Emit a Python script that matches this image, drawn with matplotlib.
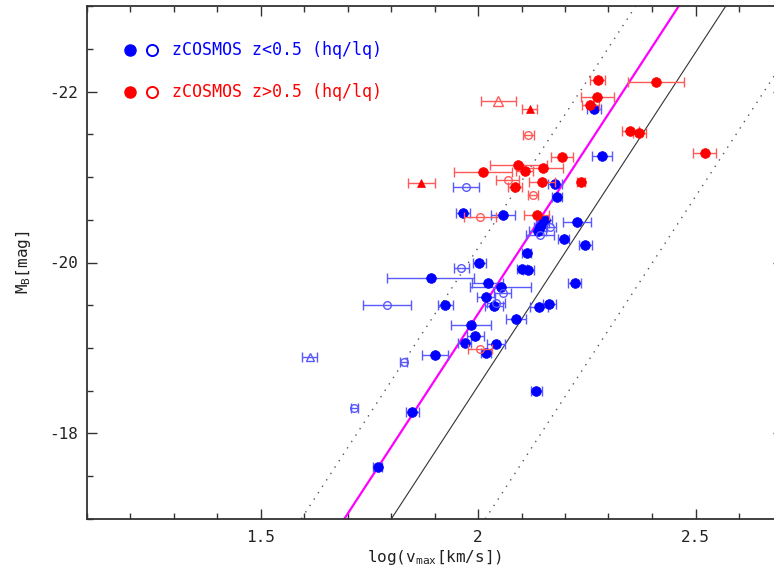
import matplotlib
matplotlib.use('Agg')
import matplotlib.pyplot as plt
import numpy as np
from matplotlib.ticker import MultipleLocator, FuncFormatter

plt.rcParams['axes.unicode_minus'] = False
plt.rcParams['font.family'] = ['DejaVu Sans Mono', 'DejaVu Sans']
plt.rcParams['mathtext.fontset'] = 'custom'
plt.rcParams['mathtext.rm'] = 'DejaVu Sans Mono'

# ---------------- data ----------------
# z<0.5, high quality (filled blue circles): log vmax, M_B, xerr
blue_hq_logv = [2.266, 2.285, 2.177, 2.181, 1.966, 2.057, 2.154, 2.149, 2.143, 2.137,
                2.227, 2.197, 2.247, 2.112, 2.003, 2.101, 2.116, 1.891, 2.022, 2.052,
                2.222, 2.018, 1.925, 2.037, 2.140, 2.164, 2.087, 1.984, 1.994, 1.970,
                2.041, 2.018, 1.902, 1.849, 2.134, 1.769]
blue_hq_mag = [-21.80, -21.25, -20.92, -20.77, -20.58, -20.56, -20.50, -20.46, -20.42, -20.37,
               -20.48, -20.28, -20.21, -20.11, -20.00, -19.92, -19.91, -19.82, -19.76, -19.71,
               -19.76, -19.60, -19.50, -19.49, -19.48, -19.51, -19.34, -19.27, -19.14, -19.06,
               -19.04, -18.94, -18.92, -18.25, -18.49, -17.61]
blue_hq_err = [0.016, 0.023, 0.015, 0.012, 0.016, 0.027, 0.015, 0.015, 0.015, 0.020,
               0.032, 0.012, 0.015, 0.010, 0.015, 0.012, 0.012, 0.100, 0.035, 0.070,
               0.015, 0.020, 0.017, 0.020, 0.020, 0.015, 0.023, 0.045, 0.020, 0.015,
               0.021, 0.012, 0.030, 0.015, 0.012, 0.010]

# z<0.5, low quality (open blue circles)
blue_lq_logv = [1.972, 2.165, 2.143, 1.962, 2.057, 2.041, 1.790, 1.829, 1.716]
blue_lq_mag = [-20.88, -20.42, -20.32, -19.93, -19.64, -19.52, -19.50, -18.84, -18.30]
blue_lq_err = [0.030, 0.015, 0.032, 0.017, 0.020, 0.020, 0.055, 0.008, 0.008]

# z<0.5 open triangle
blue_tri_logv = [1.613]
blue_tri_mag = [-18.89]
blue_tri_err = [0.017]

# z>0.5, high quality (filled red circles)
red_hq_logv = [2.275, 2.409, 2.274, 2.258, 2.350, 2.371, 2.521, 2.193, 2.093, 2.149,
               2.107, 2.012, 2.147, 2.237, 2.085, 2.135]
red_hq_mag = [-22.14, -22.11, -21.94, -21.85, -21.54, -21.52, -21.28, -21.24, -21.14, -21.11,
              -21.07, -21.06, -20.94, -20.94, -20.88, -20.56]
red_hq_err = [0.018, 0.064, 0.038, 0.020, 0.019, 0.015, 0.026, 0.025, 0.066, 0.046,
              0.020, 0.067, 0.030, 0.010, 0.016, 0.029]

# z>0.5, low quality (open red circles)
red_lq_logv = [2.116, 2.068, 2.127, 2.005, 2.005]
red_lq_mag = [-21.49, -20.97, -20.79, -20.53, -18.99]
red_lq_err = [0.012, 0.027, 0.012, 0.037, 0.027]

# z>0.5 triangles
red_ftri_logv = [2.119, 1.870]
red_ftri_mag = [-21.80, -20.93]
red_ftri_err = [0.017, 0.030]
red_otri_logv = [2.047]
red_otri_mag = [-21.89]
red_otri_err = [0.040]

# Tully-Fisher relations  M = a + b*log(v)
tf_slope = -7.81
fit_intercept = -3.778      # magenta
local_intercept = -2.934    # black solid
scatter_intercepts = [-4.551, -1.247]   # dotted

legend_labels = ['zCOSMOS z<0.5 (hq/lq)', 'zCOSMOS z>0.5 (hq/lq)']

# ---------------- figure ----------------
W, H = 774, 569
fig = plt.figure(figsize=(W / 100, H / 100), dpi=100)
ax = fig.add_axes([86.5 / W, (H - 518.7) / H, (782.5 - 86.5) / W, 512.4 / H])
ax.set_xlim(1.1, 2.7)
ax.set_ylim(-17, -23)

BLUE = (0, 0, 1)
RED = (1, 0, 0)
BLUE_L = (0.35, 0.35, 1.0)
RED_L = (1.0, 0.35, 0.35)

xl = np.array([1.1, 2.7])
for a in scatter_intercepts:
    ax.plot(xl, a + tf_slope * xl, color='#555555', lw=1.0, ls=(0, (1, 4.5)), zorder=1)
ax.plot(xl, local_intercept + tf_slope * xl, color='#333333', lw=0.8, zorder=1)
ax.plot(xl, fit_intercept + tf_slope * xl, color=(1, 0, 1), lw=1.6, zorder=2)


def pts(x, y, e, ecol, marker, ms, mfc, mec, mew=1.0, z=3):
    ax.errorbar(x, y, xerr=e, fmt='none', ecolor=ecol, elinewidth=1.0,
                capsize=3.5, capthick=1.0, zorder=z)
    ax.plot(x, y, ls='none', marker=marker, ms=ms, mfc=mfc, mec=mec, mew=mew, zorder=z + 0.5)


pts(blue_hq_logv, blue_hq_mag, blue_hq_err, BLUE_L, 'o', 7.0, BLUE, BLUE, 0.5)
pts(blue_lq_logv, blue_lq_mag, blue_lq_err, BLUE_L, 'o', 5.5, 'none', BLUE_L)
pts(blue_tri_logv, blue_tri_mag, blue_tri_err, BLUE_L, '^', 6.0, 'none', BLUE_L)
pts(red_hq_logv, red_hq_mag, red_hq_err, RED_L, 'o', 7.0, RED, RED, 0.5, z=4)
pts(red_lq_logv, red_lq_mag, red_lq_err, RED_L, 'o', 5.5, 'none', RED_L, z=4)
pts(red_ftri_logv, red_ftri_mag, red_ftri_err, RED_L, '^', 5.5, RED, RED, 0.5, z=4)
pts(red_otri_logv, red_otri_mag, red_otri_err, RED_L, '^', 7.0, 'none', RED_L, z=4)

# legend (custom)
for i, (lab, col) in enumerate(zip(legend_labels, [BLUE, RED])):
    yy = 1 - (50 + 42 * i) / H
    fig.lines.append(plt.Line2D([130 / W], [yy], transform=fig.transFigure, ls='none',
                                marker='o', ms=8, mfc=col, mec=col))
    fig.lines.append(plt.Line2D([152 / W], [yy], transform=fig.transFigure, ls='none',
                                marker='o', ms=8, mfc='none', mec=col, mew=1.4))
    fig.text(172 / W, yy, lab, color=col, fontsize=12, va='center', ha='left')

# ticks
ax.xaxis.set_major_locator(MultipleLocator(0.5))
ax.xaxis.set_minor_locator(MultipleLocator(0.1))
ax.yaxis.set_major_locator(MultipleLocator(2))
ax.yaxis.set_minor_locator(MultipleLocator(0.5))
ax.xaxis.set_major_formatter(FuncFormatter(lambda v, p: '%g' % v))
ax.yaxis.set_major_formatter(FuncFormatter(lambda v, p: '%g' % v))
ax.tick_params(which='both', direction='in', top=True, right=True, color='#333333',
               width=1.0, labelsize=11.5, labelcolor='#222222')
ax.tick_params(which='major', length=7.5)
ax.tick_params(axis='x', which='major', pad=8)
ax.tick_params(axis='y', which='major', pad=6)
ax.tick_params(which='minor', length=4.5)
for s in ax.spines.values():
    s.set_color('#333333')
    s.set_linewidth(1.3)

ax.set_xlabel(r'log(v$_{\mathregular{max}}$[km/s])', fontsize=11.5, color='#222222', labelpad=2)
ax.set_ylabel(r'M$_{\mathregular{B}}$[mag]', fontsize=11.5, color='#222222', labelpad=12)

fig.savefig('out.png', dpi=100)
